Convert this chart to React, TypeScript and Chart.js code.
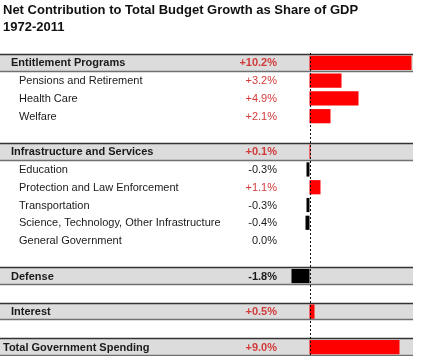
import React, { useEffect, useRef } from "react";
import { Chart, registerables } from "chart.js";

Chart.register(...registerables);

const titleLines = ["Net Contribution to Total Budget Growth as Share of GDP", "1972-2011"];

const categories = [
  "Entitlement Programs",
  "Pensions and Retirement",
  "Health Care",
  "Welfare",
  "",
  "Infrastructure and Services",
  "Education",
  "Protection and Law Enforcement",
  "Transportation",
  "Science, Technology, Other Infrastructure",
  "General Government",
  "",
  "Defense",
  "",
  "Interest",
  "",
  "Total Government Spending",
];

const values: (number | null)[] = [
  10.2, 3.2, 4.9, 2.1, null, 0.1, -0.3, 1.1, -0.3, -0.4, 0.0, null, -1.8, null, 0.5, null, 9.0,
];

// 0 = blank, 1 = header row (grey band), 2 = sub item, 3 = total row
const rowKinds = [1, 2, 2, 2, 0, 1, 2, 2, 2, 2, 2, 0, 1, 0, 1, 0, 3];

const fmt = (v: number) => (v > 0 ? "+" : "") + v.toFixed(1) + "%";

export default function App() {
  const ref = useRef<HTMLCanvasElement>(null);

  useEffect(() => {
    if (!ref.current) return;
    const FONT = "'Liberation Sans', Arial, sans-serif";
    const RED_TEXT = "#d23a3a";

    const tablePlugin = {
      id: "tablePlugin",
      beforeDatasetsDraw(chart: any) {
        const { ctx, scales } = chart;
        const y = scales.y;
        const half = (y.getPixelForValue(1) - y.getPixelForValue(0)) / 2;
        const left = 0;
        const right = 413;
        ctx.save();
        rowKinds.forEach((k, i) => {
          if (k === 1 || k === 3) {
            const cy = y.getPixelForValue(i);
            const top = Math.round(cy - half) + 0.5;
            const bot = Math.round(cy + half) - 0.5;
            ctx.fillStyle = "#dcdcdc";
            ctx.fillRect(left, top, right - left, bot - top);
            ctx.strokeStyle = "#333333";
            ctx.lineWidth = 1.5;
            ctx.beginPath();
            ctx.moveTo(left, top);
            ctx.lineTo(right, top);
            ctx.stroke();
            ctx.strokeStyle = "#707070";
            ctx.lineWidth = 1.5;
            ctx.beginPath();
            ctx.moveTo(left, bot);
            ctx.lineTo(right, bot);
            ctx.stroke();
          }
        });
        ctx.restore();
      },
      afterDatasetsDraw(chart: any) {
        const { ctx, scales } = chart;
        const y = scales.y;
        const x = scales.x;
        ctx.save();
        // dashed zero line
        const zx = Math.round(x.getPixelForValue(0)) + 0.5;
        ctx.strokeStyle = "#111";
        ctx.lineWidth = 1;
        ctx.setLineDash([2, 2]);
        ctx.beginPath();
        ctx.moveTo(zx, 53);
        ctx.lineTo(zx, 356);
        ctx.stroke();
        ctx.setLineDash([]);

        // title
        ctx.fillStyle = "#111";
        ctx.textBaseline = "middle";
        ctx.textAlign = "left";
        ctx.font = "bold 13px " + FONT;
        ctx.fillText(titleLines[0], 3, 10);
        ctx.fillText(titleLines[1], 3, 27);

        categories.forEach((c, i) => {
          const k = rowKinds[i];
          if (k === 0) return;
          const cy = y.getPixelForValue(i) + 0.5;
          const bold = k === 1 || k === 3;
          ctx.font = (bold ? "bold " : "") + "11px " + FONT;
          ctx.textAlign = "left";
          ctx.fillStyle = "#1a1a1a";
          const lx = k === 3 ? 3 : k === 1 ? 11 : 19;
          ctx.fillText(c, lx, cy);
          const v = values[i];
          if (v !== null) {
            ctx.textAlign = "right";
            ctx.fillStyle = v > 0 ? RED_TEXT : "#1a1a1a";
            ctx.fillText(fmt(v), 277, cy);
          }
        });
        ctx.restore();
      },
    };

    const chart = new Chart(ref.current, {
      type: "bar",
      data: {
        labels: categories,
        datasets: [
          {
            data: values as any,
            backgroundColor: values.map((v) => ((v ?? 0) >= 0 ? "#ff0000" : "#000000")),
            borderWidth: 0,
            barPercentage: 0.8,
            categoryPercentage: 1,
          },
        ],
      },
      options: {
        indexAxis: "y",
        animation: false,
        responsive: false,
        maintainAspectRatio: false,
        layout: { padding: { top: 54, bottom: 0, left: 0, right: 12 } },
        plugins: {
          legend: { display: false },
          tooltip: { enabled: false },
          title: { display: false },
        },
        scales: {
          x: { display: false, min: -30.95, max: 10.35 },
          y: { display: false, offset: true, grid: { display: false } },
        },
      },
      plugins: [tablePlugin],
    });
    return () => chart.destroy();
  }, []);

  return (
    <div style={{ position: "fixed", left: 0, top: 0, width: 425, height: 356, background: "#fff" }}>
      <canvas ref={ref} width={425} height={356} style={{ display: "block", width: 425, height: 356 }} />
    </div>
  );
}
